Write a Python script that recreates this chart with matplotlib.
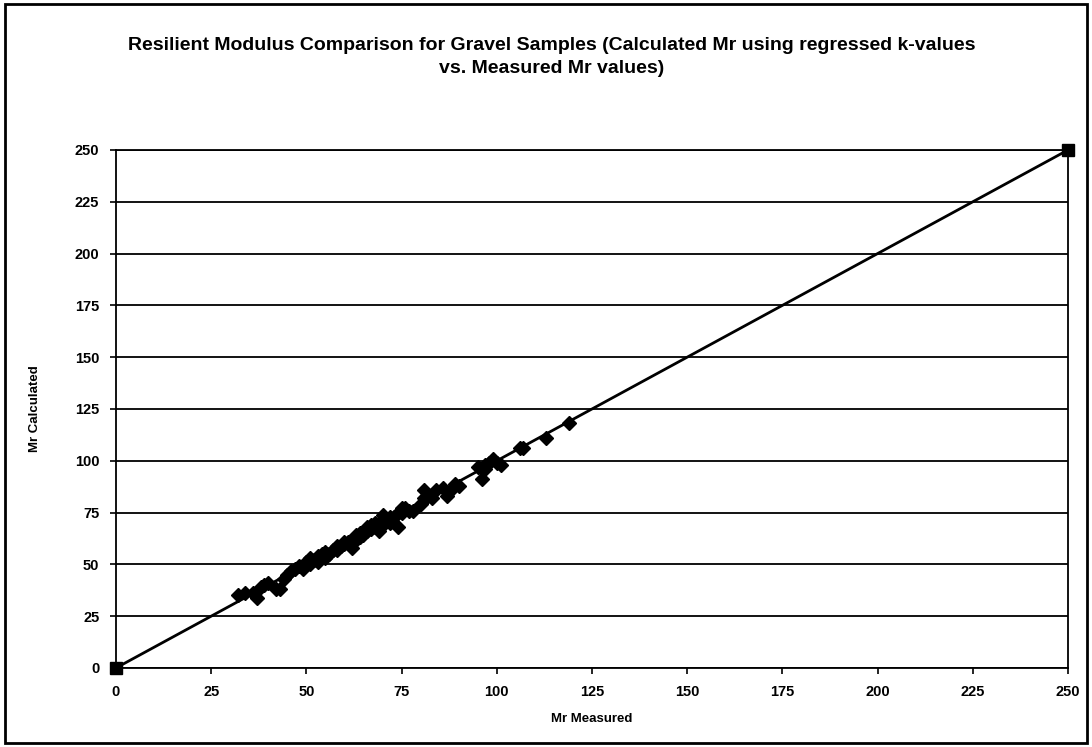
import matplotlib
matplotlib.use("Agg")
import matplotlib.pyplot as plt
from matplotlib.patches import Rectangle

plt.rcParams["font.family"] = ["Liberation Sans", "DejaVu Sans"]
plt.rcParams["font.weight"] = "bold"

# measured vs calculated resilient modulus (gravel samples)
mr_measured = [
    32, 34, 36, 37, 38, 39, 40, 42, 43, 44, 45, 46, 47, 48, 49, 50, 51, 51,
    52, 53, 53, 54, 55, 55, 56, 57, 58, 58, 59, 60, 60, 61, 62, 62, 63, 63,
    64, 64, 65, 65, 66, 66, 67, 67, 68, 68, 69, 69, 70, 70, 71, 71, 72, 72,
    73, 74, 74, 75, 75, 76, 77, 78, 80, 81, 81, 82, 83, 84, 86, 87, 88, 89,
    90, 95, 96, 96, 97, 97, 98, 99, 100, 101, 106, 107, 113, 119,
]
mr_calculated = [
    35, 36, 36, 34, 39, 40, 41, 38, 38, 43, 45, 47, 48, 49, 48, 51, 53, 50,
    52, 51, 54, 55, 56, 53, 55, 57, 57, 59, 59, 60, 61, 61, 58, 62, 62, 64,
    63, 65, 65, 64, 66, 68, 67, 69, 68, 70, 70, 66, 74, 69, 72, 71, 70, 73,
    73, 68, 75, 75, 77, 77, 76, 76, 79, 86, 82, 83, 82, 86, 87, 83, 86, 89,
    88, 97, 91, 96, 96, 98, 99, 101, 99, 98, 106, 106, 111, 118,
]
line_x = [0, 250]
line_y = [0, 250]
ticks = [0, 25, 50, 75, 100, 125, 150, 175, 200, 225, 250]

fig = plt.figure(figsize=(10.92, 7.47), dpi=100)
ax = fig.add_axes([0.1062, 0.1058, 0.8718, 0.6934])

ax.plot(line_x, line_y, "-", color="black", linewidth=2, marker="s",
        markersize=8, zorder=3, clip_on=False)
ax.plot(mr_measured, mr_calculated, "D", color="black", markersize=7,
        linestyle="none", zorder=4, clip_on=False)

ax.set_xlim(0, 250)
ax.set_ylim(0, 250)
ax.set_xticks(ticks)
ax.set_yticks(ticks)
ax.grid(axis="y", color="black", linewidth=1.3)
ax.set_axisbelow(True)
for s in ax.spines.values():
    s.set_linewidth(1.3)
ax.tick_params(labelsize=10.5, length=4, width=1.2, pad=8)
for lab in ax.get_xticklabels() + ax.get_yticklabels():
    lab.set_fontweight("bold")

ax.set_xlabel("Mr Measured", fontsize=9.5, fontweight="bold", labelpad=10)
ax.set_ylabel("Mr Calculated", fontsize=9.5, fontweight="bold", labelpad=24)

fig.text(0.505, 0.924,
         "Resilient Modulus Comparison for Gravel Samples (Calculated Mr using regressed k-values\n"
         "vs. Measured Mr values)",
         ha="center", va="center", fontsize=14, fontweight="bold",
         linespacing=1.45)

fig.patches.append(Rectangle((0.005, 0.005), 0.99, 0.99, transform=fig.transFigure,
                             fill=False, edgecolor="black", linewidth=2))

fig.savefig("out.png", dpi=100)
